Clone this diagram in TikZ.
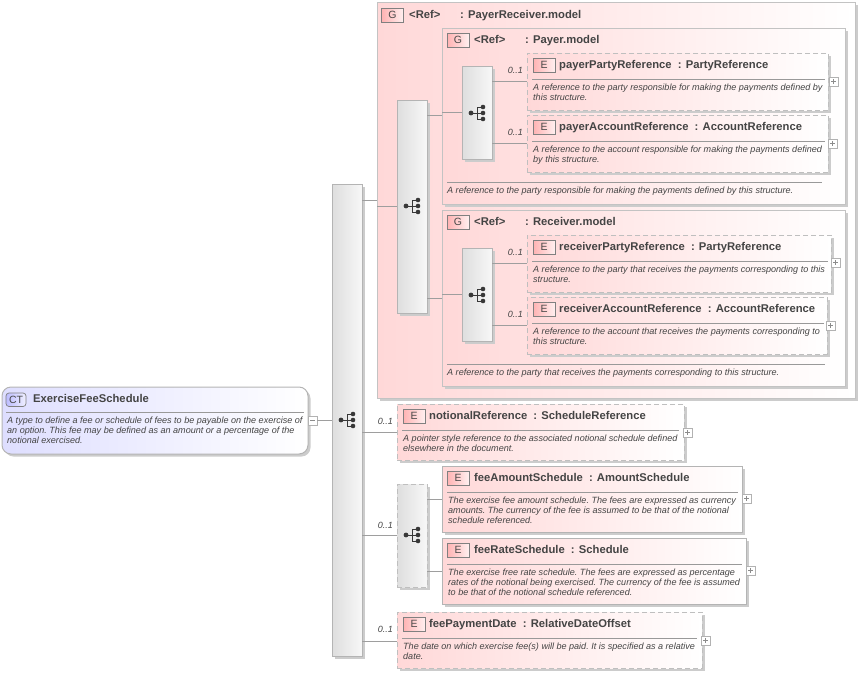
\documentclass[tikz,border=0pt]{standalone}
\usepackage{fontspec}
\setmainfont{Liberation Sans}
\usetikzlibrary{shadows}

\definecolor{pinkbox}{HTML}{FFD8D8}
\definecolor{edgegray}{HTML}{B4B4B4}
\definecolor{textgray}{HTML}{444444}
\definecolor{bluebox}{HTML}{DEDEFF}

\tikzset{
    boxshadow/.style={drop shadow={shadow xshift=2.5pt,shadow yshift=-2.5pt,fill=black!20,opacity=1}},
    box/.style={anchor=north west,inner sep=0pt,outer sep=0pt,line width=1pt,draw=edgegray,boxshadow},
    elem/.style={box,left color=pinkbox,right color=white},
    optelem/.style={elem,draw=edgegray!85,dash pattern=on 5pt off 3pt},
    group/.style={box,draw=edgegray!80,left color=pinkbox,right color=white},
    seq/.style={box,left color=black!13,right color=black!3},
    optseq/.style={seq,draw=edgegray!85,dash pattern=on 5pt off 3pt},
    tag/.style={anchor=north west,inner sep=0pt,outer sep=0pt,minimum width=22pt,minimum height=13.5pt,draw=black!50,line width=0.7pt,
        left color=red!30!white,right color=red!6!white,font=\fontsize{10.5}{12}\selectfont,text=black!72},
    title/.style={anchor=base west,inner sep=0pt,font=\bfseries\fontsize{11.25}{12}\selectfont,text=textgray},
    descr/.style={anchor=north west,inner sep=0pt,yshift=-1.5pt,align=left,font=\itshape\fontsize{9.05}{10}\selectfont\frenchspacing,text=textgray},
    occurs/.style={anchor=base east,inner sep=0pt,font=\itshape\fontsize{9}{10}\selectfont,text=textgray},
    toggle/.style={anchor=north west,inner sep=0pt,outer sep=0pt,minimum size=9pt,draw=black!30,line width=0.6pt,fill=white},
    sepline/.style={draw=black!40,line width=1pt},
    conn/.style={draw=black!38,line width=0.8pt},
    treeicon/.pic={
        \draw[line width=0.9pt,black!78] (-6,0)--(0,0) (6,-6)--(0,-6)--(0,6)--(6,6) (0,0)--(6,0);
        \fill[black!78] (-6,0)circle(2.4) (6,-6)circle(2.3) (6,0)circle(2.3) (6,6)circle(2.3);
    },
}

\begin{document}
\begin{tikzpicture}[x=1pt,y=-1pt]
    \useasboundingbox (0,0) rectangle (860,673);

    % outer group
    \node[group,minimum width=478pt,minimum height=396pt] (payerReceiver) at (377,2) {};
    \node[tag] (payerReceiverTag) at (381.5,8.5) {G};
    \node[title] (payerReceiverRef) at (409,18) {<Ref>};
    \node[title] (payerReceiverName) at (460,18) {: PayerReceiver.model};

    % payer group
    \node[group,minimum width=403pt,minimum height=176pt] (payer) at (442,28) {};
    \node[tag] (payerTag) at (447,33.5) {G};
    \node[title] (payerRef) at (474,43) {<Ref>};
    \node[title] (payerName) at (525,43) {: Payer.model};
    \draw[sepline] (447,182)--(822,182);
    \node[descr] (payerDescr) at (447,185) {A reference to the party responsible for making the payments defined by this structure.};

    % receiver group
    \node[group,minimum width=403pt,minimum height=176pt] (receiver) at (442,210) {};
    \node[tag] (receiverTag) at (447,215.5) {G};
    \node[title] (receiverRef) at (474,225) {<Ref>};
    \node[title] (receiverName) at (525,225) {: Receiver.model};
    \draw[sepline] (447,364)--(825,364);
    \node[descr] (receiverDescr) at (447,367) {A reference to the party that receives the payments corresponding to this structure.};

    % complex type
    \node[box,rounded corners=9pt,minimum width=306pt,minimum height=67pt,left color=bluebox,right color=white] (feeSchedule) at (2,387) {};
    \node[tag,rounded corners=3pt,minimum width=20pt,left color=blue!26!white,right color=blue!6!white] (feeScheduleTag) at (6,393) {CT};
    \node[title] (feeScheduleName) at (33,402) {ExerciseFeeSchedule};
    \draw[sepline] (6,412)--(304,412);
    \node[descr] (feeScheduleDescr) at (7,415) {A type to define a fee or schedule of fees to be payable on the exercise of\\an option. This fee may be defined as an amount or a percentage of the\\notional exercised.};
    \node[toggle] (feeScheduleToggle) at (308,416) {};
    \draw[black!45,line width=0.6pt] (310,420.5)--(315,420.5);

    % sequences
    \node[seq,minimum width=30pt,minimum height=472pt] (mainSeq) at (332,184) {};
    \pic at (347,420) {treeicon};
    \node[seq,minimum width=30pt,minimum height=213pt] (payerReceiverSeq) at (397,100) {};
    \pic at (412,206) {treeicon};
    \node[seq,minimum width=30pt,minimum height=93pt] (payerSeq) at (462,66) {};
    \pic at (477,113) {treeicon};
    \node[seq,minimum width=30pt,minimum height=93pt] (receiverSeq) at (462,248) {};
    \pic at (477,295) {treeicon};
    \node[optseq,minimum width=30pt,minimum height=103pt] (feeChoice) at (397,484) {};
    \pic at (412,535) {treeicon};

    % payerPartyReference
    \node[optelem,minimum width=301pt,minimum height=57pt] (payerParty) at (527,53) {};
    \node[tag] (payerPartyTag) at (533,58.5) {E};
    \node[title] (payerPartyName) at (559,68) {payerPartyReference\hspace{3pt} : PartyReference};
    \draw[sepline] (532,79)--(825,79);
    \node[descr] (payerPartyDescr) at (533,82) {A reference to the party responsible for making the payments defined by\\this structure.};
    \node[toggle] (payerPartyToggle) at (829,77) {};
    \draw[black!45,line width=0.6pt] (831,81.5)--(836,81.5) (833.5,79)--(833.5,84);

    % payerAccountReference
    \node[optelem,minimum width=301pt,minimum height=57pt] (payerAccount) at (527,115) {};
    \node[tag] (payerAccountTag) at (533,120.5) {E};
    \node[title] (payerAccountName) at (559,130) {payerAccountReference\hspace{3pt} : AccountReference};
    \draw[sepline] (532,141)--(825,141);
    \node[descr] (payerAccountDescr) at (533,144) {A reference to the account responsible for making the payments defined\\by this structure.};
    \node[toggle] (payerAccountToggle) at (828,139) {};
    \draw[black!45,line width=0.6pt] (830,143.5)--(835,143.5) (832.5,141)--(832.5,146);

    % receiverPartyReference
    \node[optelem,minimum width=304pt,minimum height=57pt] (receiverParty) at (527,235) {};
    \node[tag] (receiverPartyTag) at (533,240.5) {E};
    \node[title] (receiverPartyName) at (559,250) {receiverPartyReference\hspace{3pt} : PartyReference};
    \draw[sepline] (532,261)--(828,261);
    \node[descr] (receiverPartyDescr) at (533,264) {A reference to the party that receives the payments corresponding to this\\structure.};
    \node[toggle] (receiverPartyToggle) at (831,258) {};
    \draw[black!45,line width=0.6pt] (833,262.5)--(838,262.5) (835.5,260)--(835.5,265);

    % receiverAccountReference
    \node[optelem,minimum width=300pt,minimum height=57pt] (receiverAccount) at (527,297) {};
    \node[tag] (receiverAccountTag) at (533,302.5) {E};
    \node[title] (receiverAccountName) at (559,312) {receiverAccountReference\hspace{3pt} : AccountReference};
    \draw[sepline] (532,323)--(824,323);
    \node[descr] (receiverAccountDescr) at (533,326) {A reference to the account that receives the payments corresponding to\\this structure.};
    \node[toggle] (receiverAccountToggle) at (826,321) {};
    \draw[black!45,line width=0.6pt] (828,325.5)--(833,325.5) (830.5,323)--(830.5,328);

    % notionalReference
    \node[optelem,minimum width=287pt,minimum height=56pt] (notional) at (397,404) {};
    \node[tag] (notionalTag) at (403,409.5) {E};
    \node[title] (notionalName) at (429,419) {notionalReference\hspace{3pt} : ScheduleReference};
    \draw[sepline] (402,430)--(679,430);
    \node[descr] (notionalDescr) at (403,433) {A pointer style reference to the associated notional schedule defined\\elsewhere in the document.};
    \node[toggle] (notionalToggle) at (683,428) {};
    \draw[black!45,line width=0.6pt] (685,432.5)--(690,432.5) (687.5,430)--(687.5,435);

    % feeAmountSchedule
    \node[elem,minimum width=300pt,minimum height=66pt] (feeAmount) at (442,466) {};
    \node[tag] (feeAmountTag) at (447,471.5) {E};
    \node[title] (feeAmountName) at (474,481) {feeAmountSchedule\hspace{3pt} : AmountSchedule};
    \draw[sepline] (447,492)--(738,492);
    \node[descr] (feeAmountDescr) at (448,495) {The exercise fee amount schedule. The fees are expressed as currency\\amounts. The currency of the fee is assumed to be that of the notional\\schedule referenced.};
    \node[toggle] (feeAmountToggle) at (742,494) {};
    \draw[black!45,line width=0.6pt] (744,498.5)--(749,498.5) (746.5,496)--(746.5,501);

    % feeRateSchedule
    \node[elem,minimum width=304pt,minimum height=66pt] (feeRate) at (442,538) {};
    \node[tag] (feeRateTag) at (447,543.5) {E};
    \node[title] (feeRateName) at (474,553) {feeRateSchedule\hspace{3pt} : Schedule};
    \draw[sepline] (447,564)--(742,564);
    \node[descr] (feeRateDescr) at (448,567) {The exercise free rate schedule. The fees are expressed as percentage\\rates of the notional being exercised. The currency of the fee is assumed\\to be that of the notional schedule referenced.};
    \node[toggle] (feeRateToggle) at (746,566) {};
    \draw[black!45,line width=0.6pt] (748,570.5)--(753,570.5) (750.5,568)--(750.5,573);

    % feePaymentDate
    \node[optelem,minimum width=305pt,minimum height=56pt] (feePayment) at (397,612) {};
    \node[tag] (feePaymentTag) at (403,617.5) {E};
    \node[title] (feePaymentName) at (429,627) {feePaymentDate\hspace{3pt} : RelativeDateOffset};
    \draw[sepline] (402,638)--(697,638);
    \node[descr] (feePaymentDescr) at (403,641) {The date on which exercise fee(s) will be paid. It is specified as a relative\\date.};
    \node[toggle] (feePaymentToggle) at (701,636) {};
    \draw[black!45,line width=0.6pt] (703,640.5)--(708,640.5) (705.5,638)--(705.5,643);

    % connectors
    \draw[conn] (feeScheduleToggle.east)--(mainSeq.west |- feeScheduleToggle.east);
    \draw[conn] (mainSeq.east |- 0,200)--(payerReceiver.west |- 0,200);
    \draw[conn] (payerReceiver.west |- 0,206)--(payerReceiverSeq.west |- 0,206);
    \draw[conn] (payerReceiverSeq.east |- 0,115)--(payer.west |- 0,115);
    \draw[conn] (payer.west |- 0,112)--(payerSeq.west |- 0,112);
    \draw[conn] (payerReceiverSeq.east |- 0,298)--(receiver.west |- 0,298);
    \draw[conn] (receiver.west |- 0,294)--(receiverSeq.west |- 0,294);
    \draw[conn] (payerSeq.east |- 0,81)--(payerParty.west |- 0,81);
    \draw[conn] (payerSeq.east |- 0,143)--(payerAccount.west |- 0,143);
    \draw[conn] (receiverSeq.east |- 0,263)--(receiverParty.west |- 0,263);
    \draw[conn] (receiverSeq.east |- 0,325)--(receiverAccount.west |- 0,325);
    \draw[conn] (mainSeq.east |- 0,432)--(notional.west |- 0,432);
    \draw[conn] (mainSeq.east |- 0,535)--(feeChoice.west |- 0,535);
    \draw[conn] (feeChoice.east |- 0,499)--(feeAmount.west |- 0,499);
    \draw[conn] (feeChoice.east |- 0,571)--(feeRate.west |- 0,571);
    \draw[conn] (mainSeq.east |- 0,641)--(feePayment.west |- 0,641);

    % occurrence labels
    \node[occurs] (payerPartyOccurs) at (523,73) {0..1};
    \node[occurs] (payerAccountOccurs) at (523,135) {0..1};
    \node[occurs] (receiverPartyOccurs) at (523,255) {0..1};
    \node[occurs] (receiverAccountOccurs) at (523,317) {0..1};
    \node[occurs] (notionalOccurs) at (393,424) {0..1};
    \node[occurs] (feeChoiceOccurs) at (393,528) {0..1};
    \node[occurs] (feePaymentOccurs) at (393,632) {0..1};
\end{tikzpicture}
\end{document}
